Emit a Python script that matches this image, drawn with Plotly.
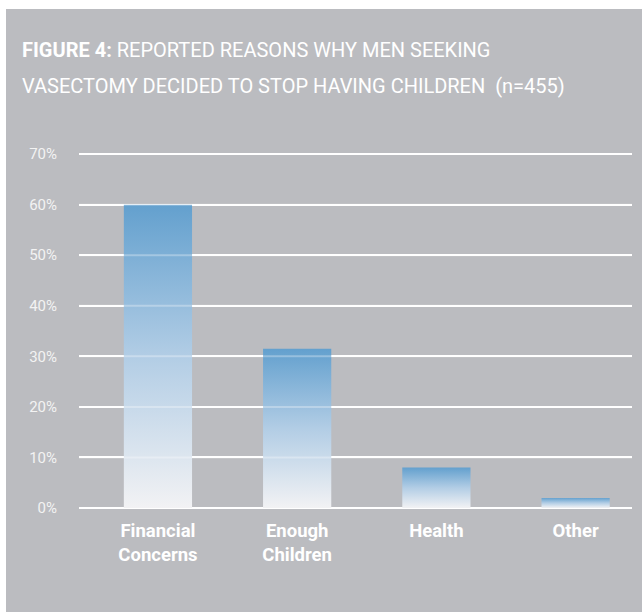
import plotly.graph_objects as go

categories = ["Financial<br>Concerns", "Enough<br>Children", "Health", "Other"]
values = [60, 31.5, 8, 2]
tick_values = [0, 10, 20, 30, 40, 50, 60, 70]
tick_labels = ["0%", "10%", "20%", "30%", "40%", "50%", "60%", "70%"]
title_line1 = "<b>FIGURE 4:</b> REPORTED REASONS WHY MEN SEEKING"
title_line2 = "VASECTOMY DECIDED TO STOP HAVING CHILDREN  (n=455)"

FONT = "Roboto, Arial, sans-serif"
GRAY = "#bbbcc0"
BAR_HALF = 0.245

W, H = 642, 612
L, R, T, B = 79, 10, 144, 104
pw, ph = W - L - R, H - T - B

def px(x):
    return (x - L) / pw

def py(y):
    return (H - B - y) / ph

fig = go.Figure()
for i, v in enumerate(values):
    fig.add_trace(go.Scatter(
        x=[i - BAR_HALF, i - BAR_HALF, i + BAR_HALF, i + BAR_HALF, i - BAR_HALF],
        y=[0, v, v, 0, 0],
        mode="lines", line=dict(width=0), fill="toself",
        fillgradient=dict(type="vertical",
                          colorscale=[[0, "#f2f2f4"], [0.5, "#b2cde5"], [1, "#63a0ce"]]),
        hoverinfo="skip", showlegend=False,
    ))

shapes = [dict(type="rect", xref="paper", yref="paper", layer="below",
               x0=px(6), x1=px(W + 5), y0=py(H + 5), y1=py(9),
               fillcolor=GRAY, line=dict(width=0))]
for tv in tick_values[1:]:
    shapes.append(dict(type="line", xref="paper", yref="y", layer="above",
                       x0=0, x1=1, y0=tv, y1=tv,
                       line=dict(color="rgba(255,255,255,0.3)", width=2)))

fig.update_layout(
    width=W, height=H,
    margin=dict(l=L, r=R, t=T, b=B),
    paper_bgcolor="white", plot_bgcolor=GRAY,
    shapes=shapes,
    showlegend=False,
    xaxis=dict(range=[-0.567, 3.405], tickvals=list(range(len(categories))),
               ticktext=categories, showgrid=False, zeroline=False,
               showline=False, ticks="", ticklabelstandoff=9,
               tickfont=dict(family=FONT, size=18.5, color="white", weight="bold"),
               fixedrange=True),
    yaxis=dict(range=[0, 72], tickvals=tick_values, ticktext=tick_labels,
               showgrid=True, gridcolor="white", gridwidth=2,
               zeroline=True, zerolinecolor="white", zerolinewidth=2,
               showline=False, ticks="", ticklabelstandoff=21,
               tickfont=dict(family=FONT, size=15, color="#f3f3f3"),
               fixedrange=True),
    annotations=[
        dict(text=title_line1, xref="paper", yref="paper", x=px(20), y=py(50),
             xanchor="left", yanchor="middle", showarrow=False,
             font=dict(family=FONT, size=20, color="white")),
        dict(text=title_line2, xref="paper", yref="paper", x=px(20), y=py(86),
             xanchor="left", yanchor="middle", showarrow=False,
             font=dict(family=FONT, size=20, color="white")),
    ],
)

fig.write_html("out.html")
